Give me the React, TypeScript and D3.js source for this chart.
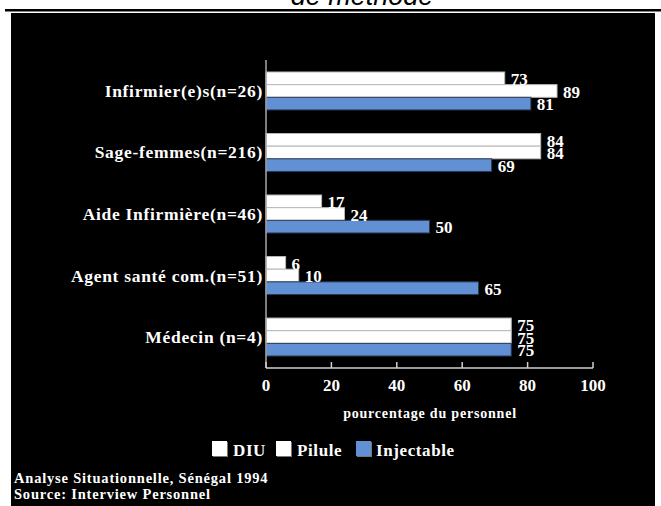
import React from "react";
import * as d3 from "d3";

// Personnel categories (sample sizes in the labels)
const categories = [
  "Infirmier(e)s(n=26)",
  "Sage-femmes(n=216)",
  "Aide Infirmière(n=46)",
  "Agent santé com.(n=51)",
  "Médecin (n=4)",
];

// Percentage of staff per method
const diu = [73, 84, 17, 6, 75];
const pilule = [89, 84, 24, 10, 75];
const injectable = [81, 69, 50, 65, 75];

const seriesNames = ["DIU", "Pilule", "Injectable"];
const seriesValues = [diu, pilule, injectable];
const seriesFill = ["#ffffff", "#ffffff", "#6190d4"];
const seriesStroke = ["#b8b8b8", "#b8b8b8", "#2b3a52"];

const xTicks = [0, 20, 40, 60, 80, 100];

const W = 661;
const H = 506;
const SERIF = "'Liberation Serif', 'Times New Roman', serif";

export default function App() {
  const x = d3.scaleLinear().domain([0, 100]).range([266, 593]);
  const y = d3
    .scaleBand<string>()
    .domain(categories)
    .range([60, 368])
    .paddingInner(0.383)
    .paddingOuter(0.195);
  const sub = d3
    .scaleBand<string>()
    .domain(seriesNames)
    .range([0, y.bandwidth()]);

  const legendItems = [
    { name: "DIU", sx: 212, tx: 233 },
    { name: "Pilule", sx: 276, tx: 297 },
    { name: "Injectable", sx: 356, tx: 376 },
  ];

  return (
    <svg
      width={W}
      height={H}
      style={{ position: "absolute", left: 0, top: 0, display: "block" }}
    >
      <rect x={0} y={0} width={W} height={H} fill="#ffffff" />
      {/* page heading, running off the top edge */}
      <text
        x={362}
        y={5}
        textAnchor="middle"
        fontFamily="'Liberation Sans', Arial, sans-serif"
        fontStyle="italic"
        fontSize={27}
        fill="#000"
      >
        de méthode
      </text>
      <rect x={5} y={9} width={656} height={2.5} fill="#000" />
      <rect x={11} y={13} width={644} height={493} fill="#000" />

      {/* bars */}
      {categories.map((c, i) => (
        <g key={c}>
          {seriesNames.map((s, k) => {
            const v = seriesValues[k][i];
            const y0 = (y(c) ?? 0) + (sub(s) ?? 0);
            return (
              <rect
                key={s}
                x={x(0)}
                y={y0}
                width={x(v) - x(0)}
                height={sub.bandwidth()}
                fill={seriesFill[k]}
                stroke={seriesStroke[k]}
                strokeWidth={1}
              />
            );
          })}
        </g>
      ))}

      {/* value labels */}
      {categories.map((c, i) => (
        <g key={c + "-lab"}>
          {seriesNames.map((s, k) => {
            const v = seriesValues[k][i];
            const y0 = (y(c) ?? 0) + (sub(s) ?? 0);
            return (
              <text
                key={s}
                x={x(v) + 6}
                y={y0 + 13}
                fontFamily={SERIF}
                fontWeight="bold"
                fontSize={17}
                fill="#fff"
              >
                {v}
              </text>
            );
          })}
        </g>
      ))}

      {/* category labels */}
      {categories.map((c) => (
        <text
          key={c + "-cat"}
          x={263}
          y={(y(c) ?? 0) + y.bandwidth() / 2 + 6}
          textAnchor="end"
          fontFamily={SERIF}
          fontWeight="bold"
          fontSize={17.5}
          letterSpacing={0.7}
          fill="#fff"
        >
          {c}
        </text>
      ))}

      {/* axes */}
      <line x1={x(0)} x2={x(0)} y1={60} y2={368} stroke="#a8a8a8" strokeWidth={1.5} />
      <line x1={x(0)} x2={x(100)} y1={368} y2={368} stroke="#d0d0d0" strokeWidth={1.5} />
      {xTicks.map((t) => (
        <g key={t}>
          <line x1={x(t)} x2={x(t)} y1={362} y2={368} stroke="#d0d0d0" strokeWidth={1.5} />
          <text
            x={x(t)}
            y={391}
            textAnchor="middle"
            fontFamily={SERIF}
            fontWeight="bold"
            fontSize={17}
            fill="#fff"
          >
            {t}
          </text>
        </g>
      ))}
      <text
        x={430}
        y={418}
        textAnchor="middle"
        fontFamily={SERIF}
        fontWeight="bold"
        fontSize={14}
        letterSpacing={0.8}
        fill="#fff"
      >
        pourcentage du personnel
      </text>

      {/* legend */}
      {legendItems.map((it, k) => (
        <g key={it.name}>
          <rect x={it.sx + 1} y={442} width={15} height={15} fill="#777" />
          <rect x={it.sx} y={441} width={15} height={15} fill={seriesFill[k]} />
          <text
            x={it.tx}
            y={456}
            fontFamily={SERIF}
            fontWeight="bold"
            fontSize={17}
            letterSpacing={0.6}
            fill="#fff"
          >
            {it.name}
          </text>
        </g>
      ))}

      {/* source notes */}
      <text x={14} y={483} fontFamily={SERIF} fontWeight="bold" fontSize={14.5} letterSpacing={0.8} fill="#fff">
        Analyse Situationnelle, Sénégal 1994
      </text>
      <text x={14} y={499} fontFamily={SERIF} fontWeight="bold" fontSize={14.5} letterSpacing={0.8} fill="#fff">
        Source: Interview Personnel
      </text>
    </svg>
  );
}
